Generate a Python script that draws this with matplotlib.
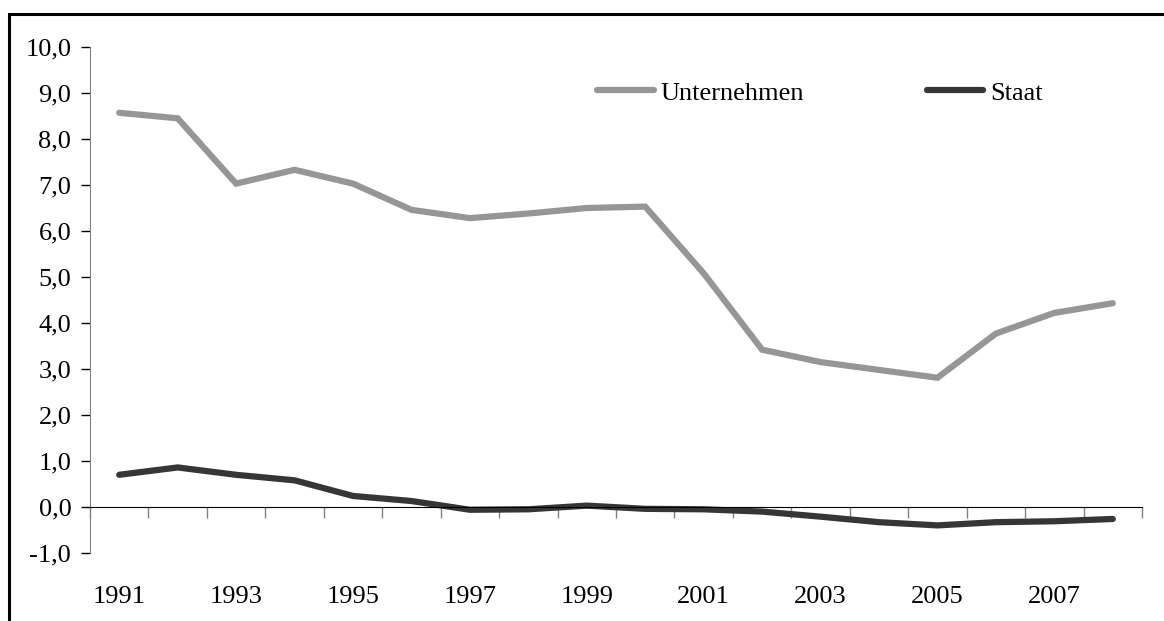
import matplotlib
matplotlib.use("Agg")
from matplotlib import pyplot as plt
from matplotlib.patches import Rectangle
from matplotlib.ticker import FuncFormatter

years = list(range(1991, 2009))
unternehmen = [8.57, 8.45, 7.03, 7.33, 7.03, 6.46, 6.28, 6.38, 6.50, 6.53,
               5.08, 3.42, 3.15, 2.98, 2.81, 3.77, 4.22, 4.43]
staat = [0.70, 0.86, 0.70, 0.58, 0.24, 0.13, -0.06, -0.05, 0.03, -0.04,
         -0.05, -0.10, -0.21, -0.33, -0.40, -0.33, -0.31, -0.26]
year_labels = [str(y) for y in years[::2]]

plt.rcParams['font.family'] = ['Liberation Serif', 'DejaVu Serif']
fs = 19

fig = plt.figure(figsize=(11.64, 6.21), dpi=100)
ax = fig.add_axes([90 / 1164, 1 - 553 / 621, (1142 - 90) / 1164, (553 - 47) / 621])

x = list(range(len(years)))
ax.plot(x, unternehmen, color='#969696', lw=4.5, solid_capstyle='round',
        solid_joinstyle='miter', label='Unternehmen')
ax.plot(x, staat, color='#363636', lw=4.5, solid_capstyle='round',
        solid_joinstyle='miter', label='Staat')

ax.set_xlim(-0.5, len(years) - 0.5)
ax.set_ylim(-1, 10)
ax.set_yticks(range(-1, 11))
ax.yaxis.set_major_formatter(FuncFormatter(lambda v, p: f"{v:.1f}".replace('.', ',')))

for s in ['top', 'right']:
    ax.spines[s].set_visible(False)
ax.spines['bottom'].set_position(('data', 0))
ax.spines['left'].set_color('#808080')
ax.spines['bottom'].set_color('black')

# boundaries between years as major ticks, labels on odd years as minor ticks
ax.set_xticks([i - 0.5 for i in range(len(years) + 1)])
ax.set_xticklabels([])
ax.set_xticks(x[::2], minor=True)
ax.set_xticklabels(year_labels, minor=True)
ax.tick_params(axis='x', which='major', length=8, width=1, color='#808080', direction='out')
ax.tick_params(axis='x', which='minor', length=0, pad=57, labelsize=fs)
ax.tick_params(axis='y', length=6.5, width=1, color='black', labelsize=fs, pad=7)

leg = ax.legend(loc='center left', bbox_to_anchor=((597 - 90) / 1052, 1 - (93 - 47) / 506),
                ncol=2, frameon=False, fontsize=fs, handlelength=2.15,
                handletextpad=0.25, columnspacing=4.65, borderaxespad=0, borderpad=0)

fig.patches.append(Rectangle((9 / 1164, -0.1), 1.2, 1 - 14 / 621 + 0.1,
                             transform=fig.transFigure, fill=False,
                             edgecolor='black', lw=2.2))

fig.savefig('out.png', dpi=100)
